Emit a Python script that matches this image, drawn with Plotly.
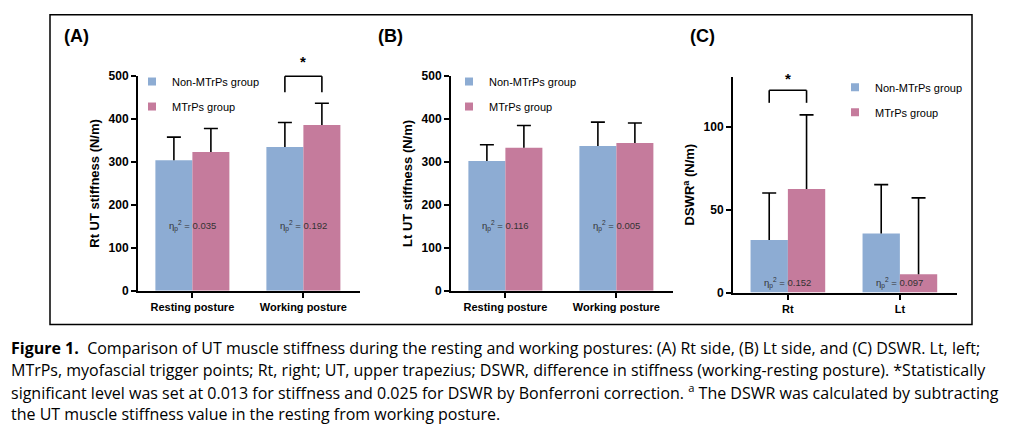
import plotly.graph_objects as go

# values
postures = ["Resting posture", "Working posture"]
sides = ["Rt", "Lt"]

rt_non = [304, 335]
rt_non_sd = [54, 57]
rt_mtrps = [323, 386]
rt_mtrps_sd = [55, 51]

lt_non = [302, 337]
lt_non_sd = [38, 56]
lt_mtrps = [333, 344]
lt_mtrps_sd = [52, 47]

dswr_non = [31.6, 35.5]
dswr_non_sd = [28.4, 29.5]
dswr_mtrps = [62.4, 11.0]
dswr_mtrps_sd = [44.6, 46.0]

eta_rt = ["0.035", "0.192"]
eta_lt = ["0.116", "0.005"]
eta_dswr = ["0.152", "0.097"]

BLUE = "#8DACD3"
PINK = "#C57B9C"
FONT = "Liberation Sans"
W, H = 1027, 438


def px_x(p):
    return p / W


def px_y(p):
    return 1 - p / H


panels = [
    # cats, non, non_sd, mtrps, mtrps_sd, eta, eta y, legend, x px, y px, yrange
    (postures, rt_non, rt_non_sd, rt_mtrps, rt_mtrps_sd, eta_rt, 150, "legend", (138, 360), (293, 71.5), [0, 500]),
    (postures, lt_non, lt_non_sd, lt_mtrps, lt_mtrps_sd, eta_lt, 150, "legend2", (451, 673), (293, 71.5), [0, 500]),
    (sides, dswr_non, dswr_non_sd, dswr_mtrps, dswr_mtrps_sd, eta_dswr, 5.8, "legend3", (733, 957), (295, 72), [0, 130]),
]
titles = ["Rt UT stiffness (N/m)", "Lt UT stiffness (N/m)", "DSWR<sup>a</sup> (N/m)"]

fig = go.Figure()
bar_gap = 1 / 3
half = (1 - bar_gap) / 4

for i, (cats, non, non_sd, mt, mt_sd, eta, eta_y, leg, xr, yr, yrange) in enumerate(panels):
    n = "" if i == 0 else str(i + 1)
    xa, ya = "x" + n, "y" + n
    for vals, sd, col, grp in [(non, non_sd, BLUE, "non"), (mt, mt_sd, PINK, "mt")]:
        fig.add_trace(go.Bar(
            x=cats, y=vals, marker=dict(color=col, line=dict(width=0)),
            offsetgroup=grp, xaxis=xa, yaxis=ya, showlegend=False))
        # one-sided SD bar: stem down to the bar top, cap drawn as a marker
        tops = [v + s for v, s in zip(vals, sd)]
        fig.add_trace(go.Scatter(
            x=cats, y=tops, mode="markers", offsetgroup=grp,
            marker=dict(symbol="line-ew", size=10, color="black",
                        line=dict(color="black", width=1.6)),
            error_y=dict(type="data", symmetric=False, array=[0] * len(sd), arrayminus=sd,
                         color="black", thickness=1.6, width=0),
            xaxis=xa, yaxis=ya, showlegend=False, hoverinfo="skip"))
    # legend entries with small square swatches
    for name, col, grp in [("Non-MTrPs group", BLUE, "non"), ("MTrPs group", PINK, "mt")]:
        fig.add_trace(go.Scatter(
            x=[None], y=[None], mode="markers", name=name, offsetgroup=grp,
            marker=dict(symbol="square", size=8, color=col),
            legend=leg, legendgroup=leg + grp, xaxis=xa, yaxis=ya))

    fig.layout["xaxis" + n] = dict(
        domain=[px_x(xr[0]), px_x(xr[1])], anchor=ya, type="category",
        range=[-0.49, 1.51], showline=True, linecolor="black", linewidth=2,
        ticks="outside", ticklen=5, tickwidth=2, tickcolor="black",
        tickfont=dict(family=FONT, size=11, color="black", weight="bold"),
        showgrid=False, zeroline=False)
    fig.layout["yaxis" + n] = dict(
        domain=[px_y(yr[0]), px_y(yr[1])], anchor=xa, range=yrange,
        dtick=100 if yrange[1] > 200 else 50,
        showline=True, linecolor="black", linewidth=2,
        ticks="outside", ticklen=5, tickwidth=2, tickcolor="black",
        tickfont=dict(family=FONT, size=12, color="black", weight="bold"),
        title=dict(text=titles[i], standoff=6,
                   font=dict(family=FONT, size=13, color="black", weight="bold")),
        showgrid=False, zeroline=False)

    for c, e in zip(cats, eta):
        fig.add_annotation(x=c, y=eta_y, xref=xa, yref=ya, showarrow=False,
                           xanchor="center", yanchor="middle",
                           text="η<sub>p</sub><sup>2</sup> = " + e,
                           font=dict(family=FONT, size=9.5, color="#333333"))

# legends
leg_font = dict(family=FONT, size=11, color="black")
for key, lx, ly in [("legend", 132, 62), ("legend2", 449, 62), ("legend3", 835, 68)]:
    fig.layout[key] = dict(x=px_x(lx), y=px_y(ly), xanchor="left", yanchor="top",
                           font=leg_font, bgcolor="rgba(0,0,0,0)",
                           traceorder="grouped", tracegroupgap=6, itemclick=False)

# significance brackets
for xa, ya, cat, top, bot, star in [("x", "y domain", 1, 1.0, 0.925, 1.02),
                                    ("x3", "y3 domain", 0, 0.937, 0.879, 0.945)]:
    x0, x1 = cat - half, cat + half
    line = dict(color="black", width=1.6)
    fig.add_shape(type="line", xref=xa, yref=ya, x0=x0, x1=x1, y0=top, y1=top, line=line)
    fig.add_shape(type="line", xref=xa, yref=ya, x0=x0, x1=x0, y0=top, y1=bot, line=line)
    fig.add_shape(type="line", xref=xa, yref=ya, x0=x1, x1=x1, y0=top, y1=bot, line=line)
    fig.add_annotation(x=cat, y=star, xref=xa, yref=ya, text="<b>*</b>", showarrow=False,
                       xanchor="center", yanchor="bottom",
                       font=dict(family=FONT, size=15, color="black"))

# panel labels
for lbl, cx in [("(A)", 76), ("(B)", 390), ("(C)", 702)]:
    fig.add_annotation(x=px_x(cx), y=px_y(30), xref="paper", yref="paper", text=lbl,
                       xanchor="center", yanchor="middle", showarrow=False,
                       font=dict(family=FONT, size=18, color="black", weight="bold"))

# frame around the panels
fig.add_shape(type="rect", xref="paper", yref="paper", x0=px_x(50), x1=px_x(972),
              y0=px_y(328), y1=px_y(8), line=dict(color="black", width=1.5))

# caption
cap_font = dict(family="Open Sans", size=16, color="black")
caption = [
    "<b>Figure 1.</b>  Comparison of UT muscle stiffness during the resting and working postures: (A) Rt side, (B) Lt side, and (C) DSWR. Lt, left;",
    "MTrPs, myofascial trigger points; Rt, right; UT, upper trapezius; DSWR, difference in stiffness (working-resting posture). *Statistically",
    "significant level was set at 0.013 for stiffness and 0.025 for DSWR by Bonferroni correction. <sup>a</sup> The DSWR was calculated by subtracting",
    "the UT muscle stiffness value in the resting from working posture.",
]
for k, line_txt in enumerate(caption):
    fig.add_annotation(x=px_x(9), y=px_y(352 + 22.8 * k), xref="paper", yref="paper",
                       xanchor="left", yanchor="middle", text=line_txt, showarrow=False,
                       font=cap_font)

fig.update_layout(width=W, height=H, margin=dict(l=0, r=0, t=0, b=0),
                  plot_bgcolor="white", paper_bgcolor="white",
                  barmode="group", bargap=bar_gap, bargroupgap=0,
                  scattermode="group", scattergap=bar_gap)

fig.write_html("out.html", config={"displayModeBar": False},
               post_script="document.body.style.margin = '0';")
